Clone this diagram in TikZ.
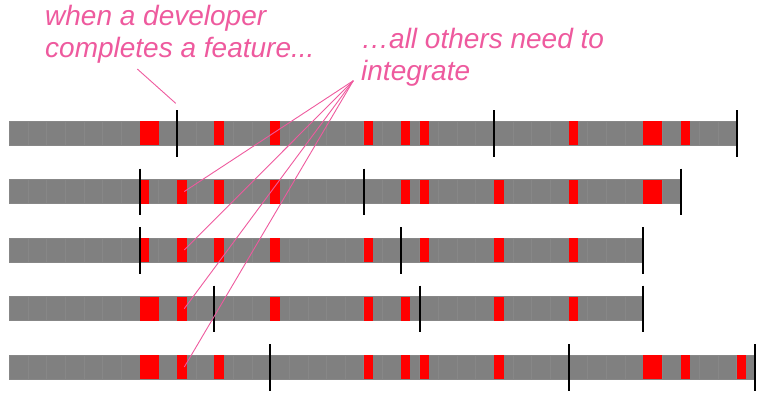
\documentclass[tikz,border=0pt]{standalone}
\usepackage{fontspec}
\setmainfont{Liberation Sans}
\definecolor{bargray}{HTML}{808080}
\definecolor{cellline}{HTML}{878787}
\definecolor{pinktxt}{HTML}{EE5A9E}
\tikzset{
  cellbox/.style={fill=bargray, draw=cellline, line width=0.4pt},
  redcell/.style={fill=red},
  tickline/.style={draw=black, line width=2pt},
  notetext/.style={text=pinktxt, font=\fontsize{28}{32}\selectfont\itshape, align=left, inner sep=0pt},
  pointer/.style={draw=pinktxt, line width=0.9pt}
}
\newcommand{\cellrow}[2]{\foreach \i in {1,...,#2}{\filldraw[cellbox] ({9.3+(\i-1)*18.65},#1) rectangle ++(18.65,24);}}
\newcommand{\fullred}[2]{\foreach \i in {#2}{\fill[redcell] ({9.3+\i*18.65},#1) rectangle ++(18.65,24);}}
\newcommand{\halfred}[2]{\foreach \i in {#2}{\fill[redcell] ({9.3+\i*18.65},#1) rectangle ++(9.35,24);}}
\newcommand{\tickrow}[2]{\foreach \i in {#2}{\draw[tickline] ({9.3+\i*18.65},{#1-11}) -- ++(0,46.5);}}
\begin{document}
\begin{tikzpicture}[x=1pt,y=-1pt]
\useasboundingbox (0,0) rectangle (765,400);
% row 1
\cellrow{121}{39}
\fullred{121}{7,34}
\halfred{121}{11,14,19,21,22,30,36}
\tickrow{121}{9,26,39}
% row 2
\cellrow{179.5}{36}
\fullred{179.5}{34}
\halfred{179.5}{7,9,11,14,21,22,26,30}
\tickrow{179.5}{7,19,36}
% row 3
\cellrow{238}{34}
\halfred{238}{7,9,11,14,19,22,26,30}
\tickrow{238}{7,21,34}
% row 4
\cellrow{296.6}{34}
\fullred{296.6}{7}
\halfred{296.6}{9,14,19,21,26,30}
\tickrow{296.6}{11,22,34}
% row 5
\cellrow{355}{40}
\fullred{355}{7,34}
\halfred{355}{9,11,19,21,22,26,36,39}
\tickrow{355}{14,30,40}
% notes
\node[notetext, anchor=base west] (dev) at (45,57) {when a developer\\completes a feature...};
\node[notetext, anchor=base west] (others) at (361,80) {…all others need to\\integrate};
\coordinate (devfrom) at (137.3,69);
\coordinate (devto) at (175.7,103.3);
\coordinate (hub) at (353.3,80.7);
\coordinate (r2) at (184.3,191.5);
\coordinate (r3) at (184.3,250);
\coordinate (r4) at (184.3,308.6);
\coordinate (r5) at (184.3,367);
\draw[pointer] (devfrom) -- (devto);
\foreach \r in {r2,r3,r4,r5}{\draw[pointer] (hub) -- (\r);}
\end{tikzpicture}
\end{document}
